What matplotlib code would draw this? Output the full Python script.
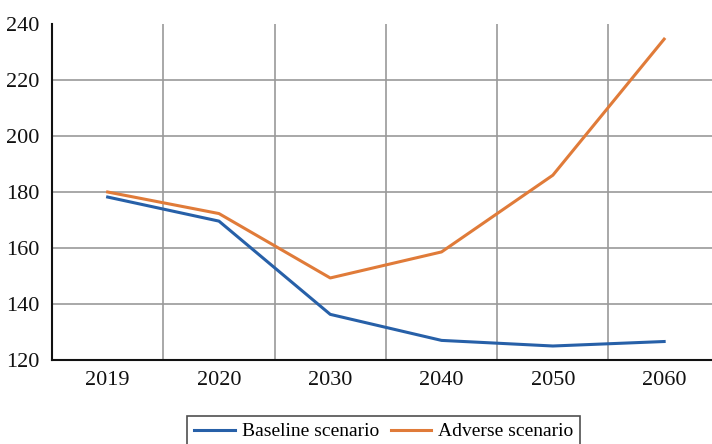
import matplotlib
matplotlib.use('Agg')
import matplotlib.pyplot as plt
from matplotlib.ticker import FixedLocator

plt.rcParams['font.family'] = ['Liberation Serif', 'DejaVu Serif']

years = ['2019', '2020', '2030', '2040', '2050', '2060']
baseline = [178.2, 169.6, 136.3, 127.0, 125.0, 126.6]
adverse = [180.0, 172.3, 149.3, 158.6, 186.0, 234.6]

blue = '#2760a8'
orange = '#e07b39'

fig = plt.figure(figsize=(7.12, 4.44), dpi=100)
ax = fig.add_axes([52 / 712, 1 - 360 / 444, 660 / 712, 336 / 444])

x = range(len(years))
ax.plot(x, baseline, color=blue, lw=2.2, label='Baseline scenario')
ax.plot(x, adverse, color=orange, lw=2.2, label='Adverse scenario')

ax.set_xlim(-0.5, 5.43)
ax.set_ylim(120, 240)
ax.set_xticks(list(x))
ax.set_xticklabels(years)
ax.set_yticks([120, 140, 160, 180, 200, 220, 240])
ax.xaxis.set_minor_locator(FixedLocator([0.5, 1.5, 2.5, 3.5, 4.5]))

# horizontal grid only at inner ticks, vertical grid between categories
for yv in [140, 160, 180, 200, 220]:
    ax.axhline(yv, color='#9a9a9a', lw=1.2, zorder=0)
ax.grid(which='minor', axis='x', color='#9a9a9a', lw=1.2, zorder=0)

ax.tick_params(which='both', length=0, labelsize=16, colors='#111111')
ax.tick_params(axis='x', pad=8)
ax.tick_params(axis='y', pad=9)
for s in ['top', 'right']:
    ax.spines[s].set_visible(False)
for s in ['left', 'bottom']:
    ax.spines[s].set_linewidth(1.5)
    ax.spines[s].set_color('#111111')

leg = fig.legend(loc='upper center', bbox_to_anchor=(0.539, 0.063), ncol=2,
                 frameon=True, fancybox=False, edgecolor='#222222',
                 fontsize=14, borderaxespad=0, handlelength=2.1,
                 columnspacing=0.6, handletextpad=0.35, borderpad=0.35)
leg.get_frame().set_linewidth(1.2)

fig.savefig('out.png', dpi=100)
